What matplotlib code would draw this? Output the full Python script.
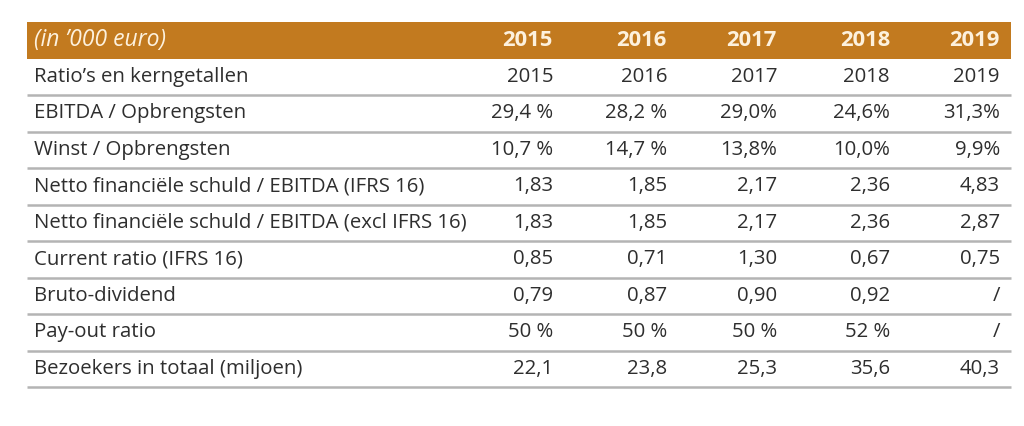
import matplotlib
matplotlib.use("Agg")
import matplotlib.pyplot as plt

# table data
years = ["2015", "2016", "2017", "2018", "2019"]
header_label = "(in \u2019000 euro)"
row_labels = [
    "Ratio\u2019s en kerngetallen",
    "EBITDA / Opbrengsten",
    "Winst / Opbrengsten",
    "Netto financi\u00eble schuld / EBITDA (IFRS 16)",
    "Netto financi\u00eble schuld / EBITDA (excl IFRS 16)",
    "Current ratio (IFRS 16)",
    "Bruto-dividend",
    "Pay-out ratio",
    "Bezoekers in totaal (miljoen)",
]
col_2015 = ["2015", "29,4 %", "10,7 %", "1,83", "1,83", "0,85", "0,79", "50 %", "22,1"]
col_2016 = ["2016", "28,2 %", "14,7 %", "1,85", "1,85", "0,71", "0,87", "50 %", "23,8"]
col_2017 = ["2017", "29,0%", "13,8%", "2,17", "2,17", "1,30", "0,90", "50 %", "25,3"]
col_2018 = ["2018", "24,6%", "10,0%", "2,36", "2,36", "0,67", "0,92", "52 %", "35,6"]
col_2019 = ["2019", "31,3%", "9,9%", "4,83", "2,87", "0,75", "/", "/", "40,3"]
columns = [col_2015, col_2016, col_2017, col_2018, col_2019]

orange = "#c27a1f"
cream = "#fdf1dd"
txt = "#2e2e2e"
line_c = "#b4b4b4"
font = ["Open Sans", "DejaVu Sans"]

fig = plt.figure(figsize=(10.24, 4.26), dpi=100)
ax = fig.add_axes([0, 0, 1, 1])
ax.set_xlim(0, 1024)
ax.set_ylim(426, 0)
ax.axis("off")

left, right = 27, 1011
top, row_h = 22, 36.5
col_right = [553, 667, 777, 890, 1000]
fs = 14.7

# header band
ax.add_patch(plt.Rectangle((left, top), right - left, row_h, color=orange, lw=0))
yc = top + row_h / 2
ax.text(34, yc, header_label, color=cream, fontsize=16.5, style="italic",
        va="center", ha="left", family=font)
for x, y in zip(col_right, years):
    ax.text(x, yc, y, color=cream, fontsize=15.8, fontweight="bold",
            va="center", ha="right", family=font)

# body rows
for i, lab in enumerate(row_labels):
    y0 = top + row_h * (i + 1)
    yc = y0 + row_h / 2
    ax.text(34, yc, lab, color=txt, fontsize=fs, va="center", ha="left", family=font)
    for x, col in zip(col_right, columns):
        ax.text(x, yc, col[i], color=txt, fontsize=fs, va="center", ha="right", family=font)
    ax.plot([left, right], [y0 + row_h, y0 + row_h], color=line_c, lw=1.8,
            solid_capstyle="butt")

fig.savefig("out.png", dpi=100, facecolor="white")
